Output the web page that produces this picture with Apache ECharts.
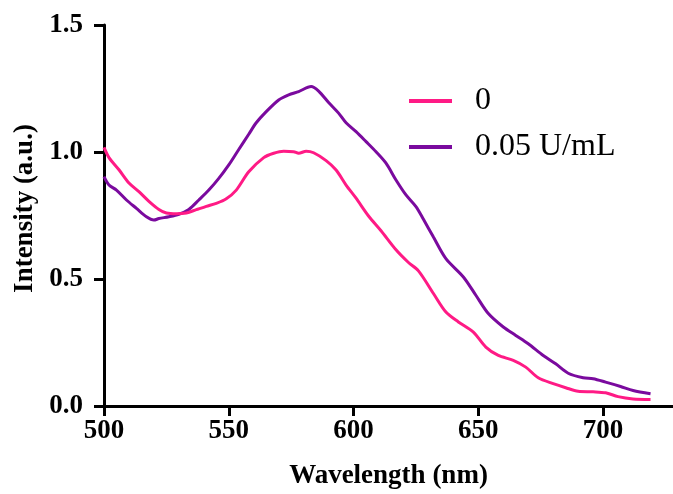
<!DOCTYPE html>
<html>
<head>
<meta charset="utf-8">
<script src="https://cdn.jsdelivr.net/npm/echarts@6/dist/echarts.min.js"></script>
<style>html,body{margin:0;padding:0;background:#fff}#c{width:673px;height:494px}</style>
</head>
<body>
<div id="c"></div>
<script>
var seriesNames = ['0', '0.05 U/mL'];
var wavelength0 = [500,502,506,510,514,518,522,525,529,533,537,541,545,549,553,558,564,568,572,576,578,581,584,589,593,597,601,606,611,617,622,626,632,637,642,648,653,658,664,669,674,680,685,690,696,701,706,712,719];
var intensity0 = [1.018,0.978,0.930,0.878,0.844,0.806,0.774,0.760,0.757,0.760,0.773,0.786,0.798,0.816,0.850,0.922,0.978,0.995,1.003,1.001,0.995,1.003,0.997,0.966,0.929,0.870,0.818,0.748,0.690,0.615,0.565,0.532,0.443,0.370,0.331,0.291,0.232,0.199,0.180,0.153,0.111,0.088,0.072,0.058,0.056,0.052,0.037,0.028,0.026];
var wavelength1 = [500,502,505,509,513,517,520,522,526,530,534,538,542,546,550,554,558,561,565,570,574,578,583,586,590,594,597,601,605,609,613,617,621,625,628,632,637,644,649,654,660,665,670,676,681,686,692,696,701,707,712,719];
var intensity1 = [0.903,0.870,0.850,0.811,0.778,0.745,0.732,0.738,0.745,0.755,0.774,0.811,0.850,0.896,0.949,1.010,1.070,1.115,1.159,1.205,1.225,1.238,1.258,1.240,1.195,1.153,1.115,1.080,1.041,1.001,0.956,0.890,0.831,0.785,0.735,0.665,0.580,0.508,0.436,0.364,0.311,0.278,0.245,0.199,0.166,0.129,0.111,0.107,0.094,0.077,0.061,0.048];
var xTicks = [500, 550, 600, 650, 700];
var yTicks = [0.0, 0.5, 1.0, 1.5];

function pairs(xs, ys){ return xs.map(function(x,i){ return [x, ys[i]]; }); }

var serif = '"Liberation Serif", "Times New Roman", serif';
var colors = ['#ff1a85', '#7a0a9e'];
var chart = echarts.init(document.getElementById('c'), null, {renderer:'canvas'});
chart.setOption({
  animation: false,
  backgroundColor: '#fff',
  color: colors,
  grid: {left: 104, top: 25, width: 569, height: 381, containLabel: false, outerBoundsMode: 'none'},
  legend: {
    orient: 'vertical', left: 409, top: 85, itemGap: 14, padding: 0,
    itemWidth: 43, itemHeight: 4, icon: 'rect',
    data: seriesNames,
    textStyle: {fontFamily: serif, fontSize: 32, color: '#000', lineHeight: 32, padding: [0,0,0,18]}
  },
  xAxis: {
    type: 'value', min: 500, max: 728, interval: 50,
    name: 'Wavelength (nm)', nameLocation: 'middle', nameGap: 57,
    nameTextStyle: {fontFamily: serif, fontWeight: 'bold', fontSize: 27, color: '#000'},
    axisLine: {show: true, lineStyle: {color: '#000', width: 3}},
    axisTick: {show: true, inside: false, length: 10, lineStyle: {color: '#000', width: 3}},
    axisLabel: {fontFamily: serif, fontWeight: 'bold', fontSize: 27, color: '#000', margin: 12, showMaxLabel: false,
      formatter: function(v){ return xTicks.indexOf(v) >= 0 ? String(v) : ''; }},
    splitLine: {show: false}
  },
  yAxis: {
    type: 'value', min: 0, max: 1.5, interval: 0.5,
    name: 'Intensity (a.u.)', nameLocation: 'middle', nameGap: 64,
    nameTextStyle: {fontFamily: serif, fontWeight: 'bold', fontSize: 27, color: '#000', padding: [0, 0, 0, 14]},
    axisLine: {show: true, lineStyle: {color: '#000', width: 3}},
    axisTick: {show: true, inside: false, length: 10, lineStyle: {color: '#000', width: 3}},
    axisLabel: {fontFamily: serif, fontWeight: 'bold', fontSize: 27, color: '#000', margin: 21,
      formatter: function(v){ return yTicks.indexOf(v) >= 0 ? v.toFixed(1) : ''; }},
    splitLine: {show: false}
  },
  series: [
    {name: seriesNames[0], type: 'line', data: pairs(wavelength0, intensity0), showSymbol: false, smooth: 0.3, lineStyle: {width: 3}, z: 3},
    {name: seriesNames[1], type: 'line', data: pairs(wavelength1, intensity1), showSymbol: false, smooth: 0.3, lineStyle: {width: 3}, z: 2}
  ]
});
</script>
</body>
</html>
